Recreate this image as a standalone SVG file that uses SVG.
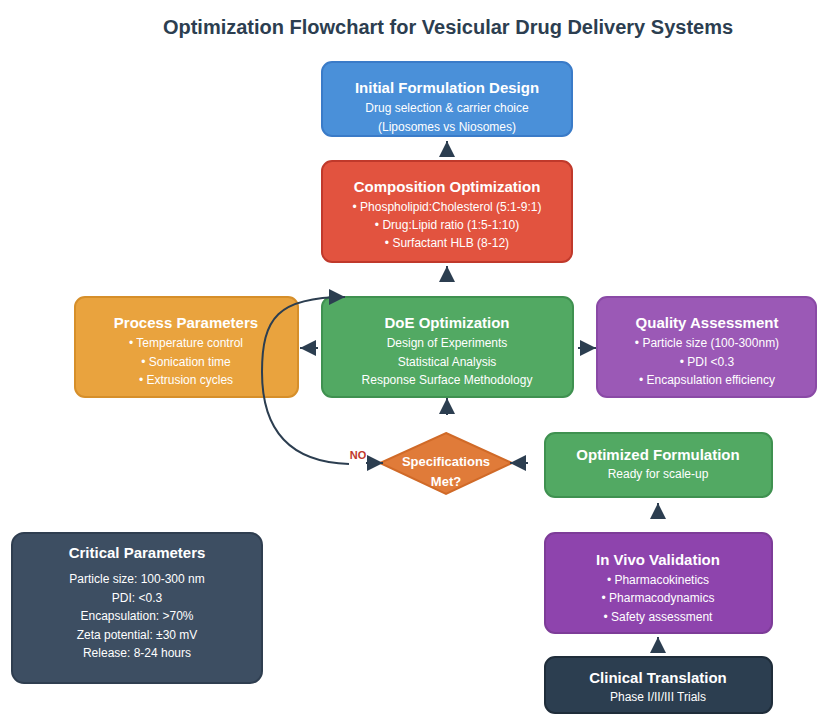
<svg xmlns="http://www.w3.org/2000/svg" width="817" height="717" viewBox="0 0 817 717">
<defs>
<marker id="ah" viewBox="0 0 16 16" refX="16" refY="8" markerWidth="16" markerHeight="16" markerUnits="userSpaceOnUse" orient="auto"><path d="M0,0 L16,8 L0,16 z" fill="#2c3e50"/></marker>
<style>
text{font-family:"Liberation Sans",Arial,Helvetica,sans-serif;fill:#fff;text-anchor:middle}
.ttl{font-size:20px;font-weight:bold;fill:#2c3e50}
.h{font-size:15px;font-weight:bold}
.b{font-size:12px}
.box{stroke-width:2}
.con{fill:none;stroke:#2c3e50;stroke-width:2;marker-end:url(#ah)}
.no{font-size:11px;font-weight:bold;fill:#c0392b}
</style>
</defs>
<rect width="817" height="717" fill="#fff"/>
<text class="ttl" x="448" y="34">Optimization Flowchart for Vesicular Drug Delivery Systems</text>

<g id="initial">
<rect class="box" x="322" y="62" width="250" height="74" rx="10" fill="#4a90d9" stroke="#3a7bc8"/>
<text class="h" x="447" y="93">Initial Formulation Design</text>
<text class="b" x="447" y="112">Drug selection &amp; carrier choice</text>
<text class="b" x="447" y="131">(Liposomes vs Niosomes)</text>
</g>

<g id="composition">
<rect class="box" x="322" y="161" width="250" height="101" rx="10" fill="#e2533f" stroke="#c0392b"/>
<text class="h" x="447" y="192">Composition Optimization</text>
<text class="b" x="447" y="211">• Phospholipid:Cholesterol (5:1-9:1)</text>
<text class="b" x="447" y="229">• Drug:Lipid ratio (1:5-1:10)</text>
<text class="b" x="447" y="247">• Surfactant HLB (8-12)</text>
</g>

<g id="process">
<rect class="box" x="75" y="297" width="223" height="100" rx="10" fill="#e9a33e" stroke="#d68f2a"/>
<text class="h" x="186" y="328">Process Parameters</text>
<text class="b" x="186" y="347">• Temperature control</text>
<text class="b" x="186" y="365.5">• Sonication time</text>
<text class="b" x="186" y="384">• Extrusion cycles</text>
</g>

<g id="doe">
<rect class="box" x="322" y="297" width="251" height="100" rx="10" fill="#52a963" stroke="#3f9150"/>
<text class="h" x="447" y="328">DoE Optimization</text>
<text class="b" x="447" y="347">Design of Experiments</text>
<text class="b" x="447" y="365.5">Statistical Analysis</text>
<text class="b" x="447" y="384">Response Surface Methodology</text>
</g>

<g id="quality">
<rect class="box" x="597" y="297" width="219" height="100" rx="10" fill="#9b59b6" stroke="#8a4aa6"/>
<text class="h" x="707" y="328">Quality Assessment</text>
<text class="b" x="707" y="347">• Particle size (100-300nm)</text>
<text class="b" x="707" y="365.5">• PDI &lt;0.3</text>
<text class="b" x="707" y="384">• Encapsulation efficiency</text>
</g>

<g id="decision">
<polygon points="446,433 512,463 446,494 380,463" fill="#e07b39" stroke="#d06a28" stroke-width="2"/>
<text class="h" style="font-size:13px" x="446" y="466">Specifications</text>
<text class="h" style="font-size:13px" x="446" y="486">Met?</text>
</g>

<g id="optimized">
<rect class="box" x="545" y="433" width="227" height="64" rx="10" fill="#52a963" stroke="#3f9150"/>
<text class="h" x="658" y="460">Optimized Formulation</text>
<text class="b" x="658" y="478">Ready for scale-up</text>
</g>

<g id="invivo">
<rect class="box" x="545" y="533" width="227" height="100" rx="10" fill="#8e44ad" stroke="#7d3c98"/>
<text class="h" x="658" y="565">In Vivo Validation</text>
<text class="b" x="658" y="584">• Pharmacokinetics</text>
<text class="b" x="658" y="602">• Pharmacodynamics</text>
<text class="b" x="658" y="621">• Safety assessment</text>
</g>

<g id="clinical">
<rect class="box" x="545" y="657" width="227" height="56" rx="10" fill="#2c3e50" stroke="#1f2d3a"/>
<text class="h" x="658" y="683">Clinical Translation</text>
<text class="b" x="658" y="701">Phase I/II/III Trials</text>
</g>

<g id="critical">
<rect class="box" x="12" y="533" width="250" height="150" rx="12" fill="#3d4e62" stroke="#2f3e50"/>
<text class="h" x="137" y="558">Critical Parameters</text>
<text class="b" x="137" y="583">Particle size: 100-300 nm</text>
<text class="b" x="137" y="601.5">PDI: &lt;0.3</text>
<text class="b" x="137" y="620">Encapsulation: &gt;70%</text>
<text class="b" x="137" y="638.5">Zeta potential: ±30 mV</text>
<text class="b" x="137" y="657">Release: 8-24 hours</text>
</g>

<g id="connectors">
<line class="con" x1="447" y1="157" x2="447" y2="141"/>
<line class="con" x1="447" y1="282" x2="447" y2="266"/>
<line class="con" x1="318" y1="348" x2="300" y2="348"/>
<line class="con" x1="578" y1="348" x2="596" y2="348"/>
<line class="con" x1="447" y1="415" x2="447" y2="398"/>
<line class="con" x1="366" y1="463" x2="383" y2="463"/>
<line class="con" x1="528" y1="463" x2="510" y2="463"/>
<line class="con" x1="658" y1="519" x2="658" y2="503"/>
<line class="con" x1="658" y1="653" x2="658" y2="637"/>
<path class="con" d="M349,464 C282,462 262,422 262,372 C262,318 278,297 345,297"/>
<text class="no" x="358" y="459">NO</text>
</g>
</svg>
